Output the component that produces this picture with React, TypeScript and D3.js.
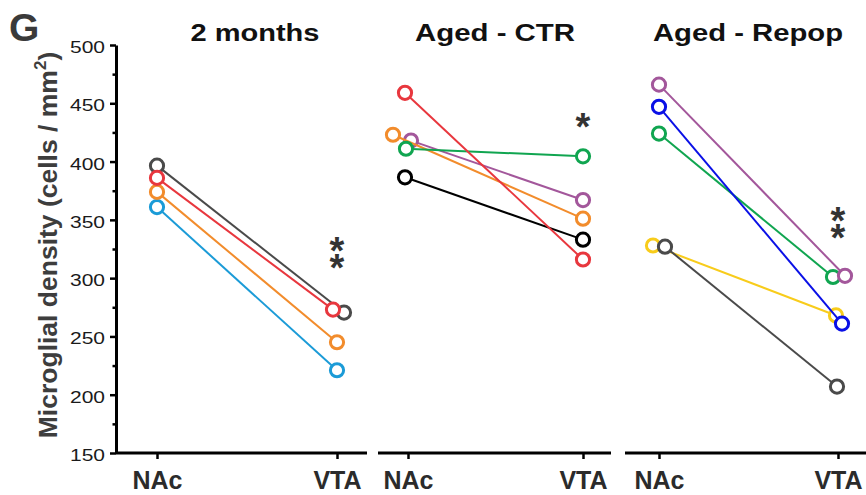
import React, { useEffect, useRef } from "react";
import * as d3 from "d3";

const panelTitles = ["2 months", "Aged - CTR", "Aged - Repop"];
const regions = ["NAc", "VTA"];
const yTickValues = [150, 200, 250, 300, 350, 400, 450, 500];
const yMinorValues = [175, 225, 275, 325, 375, 425, 475];

// microglial density per animal (cells / mm2)
const twoMonthsNAc = [361, 374, 396.5, 386];
const twoMonthsVTA = [221, 245, 270.5, 273];
const agedCtrNAc = [386.5, 418, 423, 411, 459];
const agedCtrVTA = [333, 367, 351, 404.5, 316];
const agedRepopNAc = [328, 327, 424, 447, 466];
const agedRepopVTA = [268, 207, 301, 261, 302];

const sigLabels = ["**", "*", "**"];
const sigLevels = [323, 437, 349];

// styles
const twoMonthsColors = ["#1b9bd7", "#f28c2c", "#4a4a4a", "#e8373e"];
const agedCtrColors = ["#000000", "#a3579b", "#f28c2c", "#10a550", "#e8373e"];
const agedRepopColors = ["#f8cc1b", "#4a4a4a", "#10a550", "#0a10e6", "#a3579b"];

// small pixel nudges [NAc, VTA] so overlapping circles stay visible
const twoMonthsDodge = [[0, 0], [0, 0], [0, 7], [0, -4]];
const agedCtrDodge = [[-3, 0], [3, 0], [-15, 0], [-2, 0], [-3, 0]];
const agedRepopDodge = [[-6, -2], [6, -1], [0, -5], [0, 4], [0, 7]];

const panelLayout = [
  { axis: [116, 367], points: [157, 337], titleX: 255, titleW: 129 },
  { axis: [378, 611], points: [408, 583], titleX: 495, titleW: 160 },
  { axis: [625, 866], points: [659, 838], titleX: 748, titleW: 190 },
];

const FONT = "'Liberation Sans', Arial, sans-serif";

const App = () => {
  const svgRef = useRef<SVGSVGElement>(null);

  useEffect(() => {
    const svg = d3.select(svgRef.current);
    svg.selectAll("*").remove();

    const width = 866;
    const height = 495;
    svg.attr("width", width).attr("height", height);

    const y = d3.scaleLinear().domain([150, 500]).range([453, 45]);

    const panels = [
      { nac: twoMonthsNAc, vta: twoMonthsVTA, colors: twoMonthsColors, dodge: twoMonthsDodge },
      { nac: agedCtrNAc, vta: agedCtrVTA, colors: agedCtrColors, dodge: agedCtrDodge },
      { nac: agedRepopNAc, vta: agedRepopVTA, colors: agedRepopColors, dodge: agedRepopDodge },
    ];

    // Y axis
    const gY = svg
      .append("g")
      .attr("transform", "translate(116,0)")
      .call(d3.axisLeft(y).tickValues(yTickValues).tickSize(6).tickSizeOuter(0).tickPadding(5));
    gY.select(".domain").attr("stroke", "#000").attr("stroke-width", 3);
    gY.selectAll(".tick line").attr("stroke", "#000").attr("stroke-width", 2.5);
    gY.selectAll(".tick text")
      .attr("font-family", FONT)
      .attr("font-size", 16.5)
      .attr("fill", "#1a1a1a")
      .attr("dy", "0.45em")
      .attr("textLength", 35)
      .attr("lengthAdjust", "spacingAndGlyphs");

    const gMinor = svg
      .append("g")
      .attr("transform", "translate(116,0)")
      .call(d3.axisLeft(y).tickValues(yMinorValues).tickSize(3.5).tickFormat(() => ""));
    gMinor.select(".domain").remove();
    gMinor.selectAll(".tick line").attr("stroke", "#000").attr("stroke-width", 2.5);

    // Y label
    const yLabel = svg
      .append("text")
      .attr("transform", "translate(57,245) rotate(-90)")
      .attr("text-anchor", "middle")
      .attr("font-family", FONT)
      .attr("font-weight", "bold")
      .attr("font-size", 26.5)
      .attr("fill", "#3d3d3d");
    yLabel.append("tspan").text("Microglial density (cells / mm");
    yLabel.append("tspan").attr("dy", -11).attr("font-size", 17).text("2");
    yLabel.append("tspan").attr("dy", 11).text(")");

    // panel letter
    svg
      .append("text")
      .attr("x", 9)
      .attr("y", 41)
      .attr("font-family", FONT)
      .attr("font-weight", "bold")
      .attr("font-size", 39)
      .attr("fill", "#3a3a3a")
      .text("G");

    panels.forEach((p, i) => {
      const lay = panelLayout[i];
      const x = d3.scalePoint().domain(regions).range(lay.points);
      const g = svg.append("g");

      // x baseline
      g.append("line")
        .attr("x1", lay.axis[0])
        .attr("x2", lay.axis[1])
        .attr("y1", 453)
        .attr("y2", 453)
        .attr("stroke", "#000")
        .attr("stroke-width", 3);

      const gX = g
        .append("g")
        .attr("transform", "translate(0,453)")
        .call(d3.axisBottom(x).tickSize(6).tickSizeOuter(0).tickPadding(12));
      gX.select(".domain").remove();
      gX.selectAll(".tick line").attr("stroke", "#000").attr("stroke-width", 2.5);
      gX.selectAll(".tick text")
        .attr("font-family", FONT)
        .attr("font-weight", "bold")
        .attr("font-size", 25)
        .attr("fill", "#2b2b2b");

      // title
      g.append("text")
        .attr("x", lay.titleX)
        .attr("y", 41)
        .attr("text-anchor", "middle")
        .attr("font-family", FONT)
        .attr("font-weight", "bold")
        .attr("font-size", 23.3)
        .attr("fill", "#111")
        .attr("textLength", lay.titleW)
        .attr("lengthAdjust", "spacingAndGlyphs")
        .text(panelTitles[i]);

      const series = p.nac.map((v, k) => [
        { x: x("NAc")! + p.dodge[k][0], y: y(v) },
        { x: x("VTA")! + p.dodge[k][1], y: y(p.vta[k]) },
      ]);

      const line = d3
        .line<{ x: number; y: number }>()
        .x((d) => d.x)
        .y((d) => d.y);

      series.forEach((pts, k) => {
        g.append("path")
          .attr("d", line(pts))
          .attr("fill", "none")
          .attr("stroke", p.colors[k])
          .attr("stroke-width", 2);
        g.selectAll(null)
          .data(pts)
          .enter()
          .append("circle")
          .attr("cx", (d) => d.x)
          .attr("cy", (d) => d.y)
          .attr("r", 6.6)
          .attr("fill", "#fff")
          .attr("stroke", p.colors[k])
          .attr("stroke-width", 3);
      });

      // significance stars, stacked in one text element
      const stars = sigLabels[i].split("");
      const fs = 38;
      const step = 17;
      const top = y(sigLevels[i]) - ((stars.length - 1) / 2) * step + 0.57 * fs;
      const t = g
        .append("text")
        .attr("text-anchor", "middle")
        .attr("font-family", FONT)
        .attr("font-weight", "bold")
        .attr("font-size", fs)
        .attr("fill", "#333");
      stars.forEach((s, k) => {
        t.append("tspan")
          .attr("x", x("VTA")!)
          .attr("y", top + k * step)
          .text(s);
      });
    });
  }, []);

  return (
    <div style={{ position: "absolute", left: 0, top: 0 }}>
      <svg ref={svgRef} style={{ display: "block", background: "#fff" }} />
    </div>
  );
};

export default App;
